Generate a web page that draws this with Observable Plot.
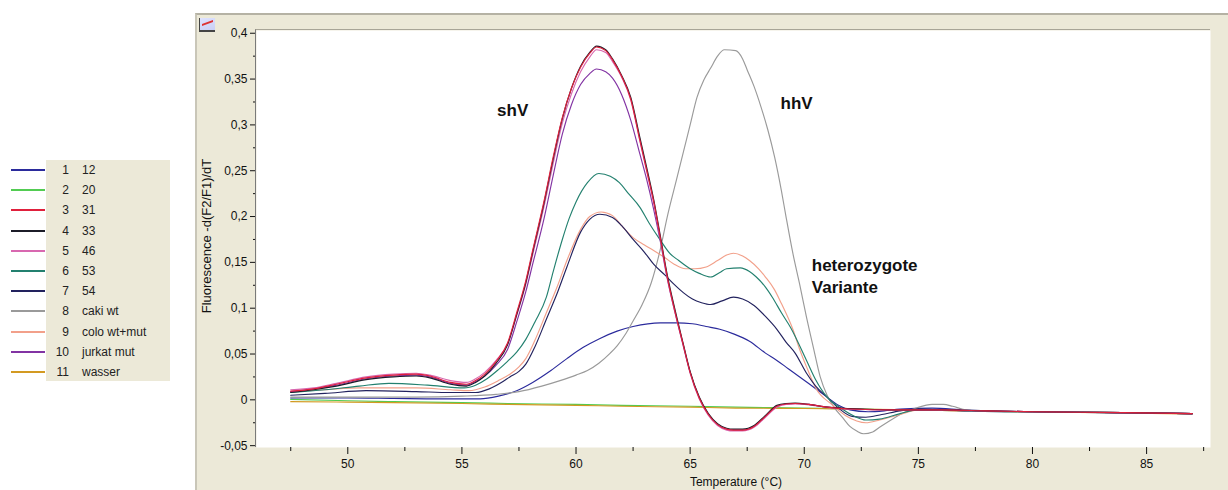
<!DOCTYPE html>
<html><head><meta charset="utf-8">
<script src="https://cdn.jsdelivr.net/npm/d3@7"></script>
<script src="https://cdn.jsdelivr.net/npm/@observablehq/plot@0.6"></script>
<style>
body{margin:0;background:#fff;font-family:"Liberation Sans",Arial,sans-serif;}
#wrap{position:relative;width:1228px;height:490px;overflow:hidden;background:#fff;}
#panel{position:absolute;left:195px;top:13px;width:1033px;height:477px;background:#ECE9D8;border-top:2px solid #b5b2a4;border-left:2px solid #c9c6b8;box-sizing:border-box;}
#chart{position:absolute;left:0;top:0;}
#pframe{position:absolute;left:255px;top:29px;width:955px;height:418px;border-top:1px solid #a8a597;border-left:1px solid #7a7a7a;box-sizing:border-box;pointer-events:none;}
#ylab{position:absolute;left:57px;top:228px;width:300px;height:16px;line-height:16px;text-align:center;font-size:13px;transform:rotate(-90deg);transform-origin:center;color:#111;white-space:nowrap;}
#xlab{position:absolute;left:636px;top:474px;width:200px;height:16px;line-height:16px;text-align:center;font-size:12px;color:#111;white-space:nowrap;}
#icon{position:absolute;left:199px;top:18px;width:15px;height:12px;border-left:1px solid #444;border-bottom:2px solid #444;background:linear-gradient(160deg,#dfe3ff 0%,#c9cff5 100%);}
#icon:after{content:"";position:absolute;left:2px;top:4px;width:11px;height:3px;border-top:2px solid #d33;transform:skewY(-20deg);}
#legend{position:absolute;left:0;top:0;}
.lrow{position:absolute;height:16px;line-height:16px;font-size:12px;color:#222;white-space:nowrap;}
.lline{position:absolute;height:2px;}
#lbox{position:absolute;left:46px;top:160px;width:124px;height:221px;background:#ECE9D8;}
</style></head>
<body>
<div id="wrap">
  <div id="panel"></div>
  <div id="chart"></div>
  <div id="pframe"></div>
  <div id="icon"></div>
  <div id="ylab">Fluorescence -d(F2/F1)/dT</div>
  <div id="xlab">Temperature (°C)</div>
  <div id="legend"><div id="lbox"></div></div>
</div>
<script>
// ---- data ----
const seriesIds = [1,2,3,4,5,6,7,8,9,10,11];
const seriesNames = ["12","20","31","33","46","53","54","caki wt","colo wt+mut","jurkat mut","wasser"];
const seriesColors = ["#2b2b9c","#52cc52","#e0203c","#1c1c28","#d868b0","#23806f","#22225e","#9a9a9a","#f2a08a","#8233a3","#d39a22"];

const yTicks = [-0.05,0,0.05,0.1,0.15,0.2,0.25,0.3,0.35,0.4];
const yMinorTicks = [-0.025,0.025,0.075,0.125,0.175,0.225,0.275,0.325,0.375];
const xTicks = [50,55,60,65,70,75,80,85];
const xMinorTicks = [47.5,52.5,57.5,62.5,67.5,72.5,77.5,82.5,87.5];

const annLabels = ["shV","hhV","heterozygote","Variante"];
const annTemp   = [56.54,68.96,70.33,70.33];
const annValue  = [0.3155,0.323,0.146,0.122];

const curve1 = [[47.5,0.002],[50,0.002],[52,0.0015],[54,0.001],[55.8,0.001],[56.6,0.004],[57.4,0.01],[58.1,0.019],[58.9,0.032],[59.6,0.045],[60.3,0.057],[61.05,0.067],[61.8,0.075],[62.5,0.08],[63.7,0.084],[64.4,0.084],[65.1,0.083],[65.7,0.08],[66.3,0.077],[66.9,0.072],[67.6,0.064],[68.3,0.051],[68.8,0.043],[69.3,0.034],[69.8,0.025],[70.4,0.014],[71.0,0.003],[71.5,-0.006],[72.0,-0.011],[72.8,-0.013],[73.5,-0.012],[74.2,-0.01],[75.6,-0.009],[77,-0.011],[80,-0.013],[83,-0.014],[87,-0.015]];
const curve2 = [[47.5,0.0005],[50,-0.001],[52,-0.002],[55,-0.003],[57,-0.004],[60,-0.005],[62,-0.006],[65,-0.007],[67,-0.008],[70,-0.009],[72,-0.01],[75,-0.011],[77,-0.012],[80,-0.013],[83,-0.0135],[87,-0.015]];
const curve3 = [[47.5,0.0095],[48.5,0.012],[49.5,0.017],[50.8,0.024],[52,0.027],[53,0.028],[53.6,0.026],[54.5,0.019],[55.2,0.017],[55.6,0.021],[56,0.028],[56.5,0.042],[57,0.062],[57.4,0.095],[57.8,0.13],[58.1,0.163],[58.6,0.217],[59.0,0.265],[59.4,0.308],[59.8,0.34],[60.2,0.363],[60.6,0.378],[60.9,0.385],[61.3,0.381],[61.6,0.371],[62.0,0.353],[62.4,0.328],[62.8,0.283],[63.1,0.25],[63.4,0.217],[63.7,0.176],[64.0,0.134],[64.35,0.095],[64.7,0.06],[65.0,0.03],[65.4,0.002],[65.8,-0.016],[66.2,-0.027],[66.6,-0.032],[66.9,-0.033],[67.3,-0.033],[67.8,-0.029],[68.3,-0.018],[68.8,-0.007],[69.2,-0.0045],[69.6,-0.004],[70.2,-0.005],[71.0,-0.008],[72.0,-0.01],[74.0,-0.011],[76.0,-0.011],[78,-0.012],[80,-0.013],[84,-0.014],[87,-0.015]];
const curve4 = [[47.5,0.008],[48.5,0.011],[49.5,0.015],[50.8,0.022],[52,0.025],[53,0.026],[53.6,0.024],[54.5,0.017],[55.2,0.015],[55.6,0.019],[56,0.026],[56.5,0.04],[57,0.06],[57.4,0.093],[57.8,0.128],[58.1,0.161],[58.6,0.215],[59.0,0.263],[59.4,0.307],[59.8,0.34],[60.2,0.364],[60.6,0.379],[60.9,0.386],[61.3,0.382],[61.6,0.372],[62.0,0.354],[62.4,0.33],[62.8,0.286],[63.1,0.253],[63.4,0.219],[63.7,0.178],[64.0,0.136],[64.35,0.097],[64.7,0.061],[65.0,0.031],[65.4,0.003],[65.8,-0.015],[66.2,-0.026],[66.6,-0.031],[66.9,-0.032],[67.3,-0.032],[67.8,-0.028],[68.3,-0.017],[68.8,-0.006],[69.2,-0.004],[69.6,-0.0035],[70.2,-0.005],[71,-0.008],[72,-0.0095],[74,-0.011],[76,-0.011],[78,-0.012],[80,-0.013],[84,-0.014],[87,-0.015]];
const curve5 = [[47.5,0.011],[48.5,0.013],[49.5,0.018],[50.8,0.025],[52,0.028],[53,0.029],[53.6,0.027],[54.5,0.021],[55.2,0.019],[55.6,0.023],[56,0.03],[56.5,0.043],[57,0.061],[57.4,0.092],[57.8,0.126],[58.1,0.158],[58.6,0.211],[59.0,0.258],[59.4,0.302],[59.8,0.334],[60.2,0.358],[60.6,0.374],[60.9,0.382],[61.3,0.379],[61.6,0.369],[62.0,0.352],[62.4,0.327],[62.8,0.282],[63.1,0.249],[63.4,0.215],[63.7,0.175],[64.0,0.133],[64.35,0.094],[64.7,0.059],[65.0,0.029],[65.4,0.001],[65.8,-0.017],[66.2,-0.028],[66.6,-0.033],[66.9,-0.034],[67.3,-0.034],[67.8,-0.03],[68.3,-0.019],[68.8,-0.008],[69.2,-0.005],[69.6,-0.0045],[70.2,-0.0055],[71,-0.0085],[72,-0.01],[74,-0.011],[76,-0.0115],[78,-0.012],[80,-0.013],[84,-0.014],[87,-0.015]];
const curve6 = [[47.5,0.008],[49,0.011],[50.5,0.015],[51.8,0.018],[53.5,0.016],[55.1,0.013],[55.6,0.016],[56.1,0.023],[56.6,0.033],[57.0,0.042],[57.4,0.052],[57.8,0.066],[58.2,0.085],[58.7,0.112],[59.0,0.14],[59.4,0.175],[59.7,0.198],[60.0,0.216],[60.5,0.237],[61.0,0.247],[61.5,0.244],[61.9,0.237],[62.3,0.225],[62.8,0.21],[63.2,0.193],[63.7,0.174],[64.1,0.16],[64.5,0.152],[65.0,0.143],[65.4,0.138],[65.9,0.134],[66.3,0.139],[66.6,0.143],[67.2,0.144],[67.6,0.14],[67.9,0.134],[68.3,0.123],[68.6,0.112],[69.0,0.095],[69.4,0.079],[70.1,0.043],[70.5,0.022],[71.0,0.003],[71.6,-0.009],[72.2,-0.018],[72.7,-0.022],[73.3,-0.021],[74.2,-0.015],[75,-0.011],[76,-0.011],[77,-0.012],[80,-0.013],[84,-0.014],[87,-0.015]];
const curve7 = [[47.5,0.005],[49,0.007],[50.8,0.01],[53,0.009],[54.5,0.008],[55.6,0.008],[56.2,0.012],[56.8,0.02],[57.1,0.025],[57.5,0.031],[57.8,0.039],[58.2,0.058],[58.7,0.088],[59.2,0.118],[59.6,0.145],[60.2,0.183],[60.6,0.197],[61.05,0.2025],[61.6,0.199],[62.0,0.19],[62.5,0.175],[63.0,0.161],[63.4,0.148],[63.9,0.136],[64.3,0.126],[64.7,0.117],[65.1,0.11],[65.5,0.106],[65.9,0.104],[66.4,0.108],[66.9,0.112],[67.3,0.11],[67.8,0.103],[68.3,0.091],[68.8,0.077],[69.2,0.063],[69.6,0.051],[70.1,0.029],[70.5,0.015],[71.0,0.003],[71.5,-0.009],[72.1,-0.018],[72.7,-0.019],[73.4,-0.016],[74.2,-0.012],[75,-0.01],[77,-0.012],[80,-0.013],[84,-0.014],[87,-0.015]];
const curve8 = [[47.5,0.003],[50,0.003],[53,0.003],[55,0.004],[56.5,0.006],[57.5,0.009],[58.5,0.015],[59.3,0.021],[60,0.027],[60.5,0.032],[61,0.04],[61.5,0.051],[61.8,0.059],[62.2,0.073],[62.5,0.086],[62.9,0.104],[63.3,0.128],[63.7,0.165],[64.0,0.2],[64.4,0.24],[64.7,0.27],[65.0,0.3],[65.3,0.33],[65.6,0.349],[65.9,0.362],[66.2,0.375],[66.5,0.382],[67.0,0.381],[67.3,0.372],[67.5,0.36],[67.8,0.342],[68.1,0.32],[68.4,0.295],[68.7,0.265],[69.0,0.228],[69.2,0.2],[69.5,0.16],[69.8,0.126],[70.1,0.09],[70.4,0.057],[70.7,0.025],[71.0,0.005],[71.3,-0.008],[71.7,-0.02],[72.0,-0.029],[72.3,-0.034],[72.6,-0.037],[73.0,-0.035],[73.3,-0.03],[73.8,-0.022],[74.2,-0.016],[74.9,-0.009],[75.6,-0.005],[76.1,-0.005],[76.5,-0.007],[77.1,-0.011],[78,-0.012],[80,-0.013],[84,-0.014],[87,-0.015]];
const curve9 = [[47.5,0.009],[49,0.011],[50.5,0.013],[53,0.013],[54.5,0.011],[55.3,0.01],[56,0.014],[56.6,0.021],[57.1,0.028],[57.5,0.036],[57.8,0.045],[58.2,0.065],[58.7,0.095],[59.2,0.125],[59.6,0.152],[60.2,0.186],[60.6,0.2],[61.1,0.205],[61.6,0.201],[62.0,0.19],[62.5,0.177],[63.0,0.169],[63.4,0.163],[63.9,0.155],[64.3,0.148],[64.8,0.143],[65.2,0.143],[65.7,0.145],[66.2,0.152],[66.6,0.158],[66.9,0.16],[67.3,0.157],[67.6,0.152],[68.0,0.143],[68.3,0.134],[68.7,0.12],[69.0,0.105],[69.5,0.077],[69.8,0.055],[70.1,0.036],[70.5,0.013],[71.2,-0.005],[71.8,-0.017],[72.3,-0.023],[72.7,-0.025],[73.3,-0.022],[74.2,-0.016],[75,-0.011],[77,-0.012],[80,-0.013],[84,-0.014],[87,-0.015]];
const curve10 = [[47.5,0.009],[48.5,0.012],[49.5,0.016],[50.8,0.023],[52,0.026],[53,0.027],[53.6,0.025],[54.5,0.018],[55.2,0.016],[55.6,0.02],[56,0.026],[56.5,0.038],[57,0.055],[57.4,0.085],[57.8,0.118],[58.1,0.148],[58.6,0.198],[59.0,0.245],[59.4,0.29],[59.8,0.322],[60.2,0.344],[60.6,0.356],[60.9,0.361],[61.3,0.358],[61.6,0.351],[62.0,0.333],[62.4,0.305],[62.8,0.268],[63.1,0.24],[63.4,0.208],[63.7,0.172],[64.0,0.132],[64.35,0.094],[64.7,0.059],[65.0,0.03],[65.4,0.002],[65.8,-0.016],[66.2,-0.027],[66.6,-0.032],[66.9,-0.033],[67.3,-0.033],[67.8,-0.029],[68.3,-0.018],[68.8,-0.007],[69.2,-0.0045],[69.6,-0.004],[70.2,-0.005],[71,-0.008],[72,-0.01],[74,-0.011],[76,-0.011],[78,-0.012],[80,-0.013],[84,-0.014],[87,-0.015]];
const curve11 = [[47.5,-0.002],[50,-0.0025],[52,-0.003],[55,-0.004],[57,-0.005],[60,-0.006],[62,-0.007],[65,-0.008],[67,-0.009],[70,-0.0095],[72,-0.01],[75,-0.011],[77,-0.012],[80,-0.013],[83,-0.014],[87,-0.0155]];

const curves = [curve1,curve2,curve3,curve4,curve5,curve6,curve7,curve8,curve9,curve10,curve11];
const drawOrder = [2,11,1,8,9,7,6,10,5,4,3];

// ---- build ----
const rows = [];
curves.forEach((c,i)=>c.forEach(([t,v])=>rows.push({id:seriesIds[i],name:seriesNames[i],t,v})));
const annotations = annLabels.map((s,i)=>({s,t:annTemp[i],v:annValue[i]}));
const fmt = d => String(+d.toFixed(2)).replace(".", ",");

const lineMarks = drawOrder.map(id => Plot.line(rows.filter(r=>r.id===id), {
  x:"t", y:"v", stroke: seriesColors[id-1], strokeWidth: 1.15, curve:"monotone-x"
}));

const chart = Plot.plot({
  width: 1228, height: 490,
  marginLeft: 256, marginRight: 18, marginTop: 30, marginBottom: 43,
  x: {domain:[46, 87.8]},
  y: {domain:[-0.052, 0.403]},
  style: {background:"transparent", fontFamily:"'Liberation Sans', Arial, sans-serif", fontSize:"12px", color:"#111"},
  marks: [
    Plot.frame({fill:"white", stroke:"none"}),
    Plot.axisY({ticks: yMinorTicks, tickSize: 3, tickFormat: () => "", label: null}),
    Plot.axisY({ticks: yTicks, tickSize: 6, tickPadding: 3, tickFormat: fmt, label: null}),
    Plot.axisX({ticks: xMinorTicks, tickSize: 4, tickFormat: () => "", label: null}),
    Plot.axisX({ticks: xTicks, tickSize: 7, tickPadding: 5, tickFormat: d => String(d), label: null}),
    ...lineMarks,
    Plot.text(annotations, {x:"t", y:"v", text:"s", textAnchor:"start", lineAnchor:"middle", fontSize:17, fontWeight:"bold", fill:"#111"})
  ]
});
document.getElementById("chart").appendChild(chart);

// legend
const leg = document.getElementById("legend");
seriesIds.forEach((id,i)=>{
  const y = 170 + i*20.2;
  const ln = document.createElement("div");
  ln.className = "lline";
  ln.style.left = "11px"; ln.style.width = "34px"; ln.style.top = Math.round(y-1)+"px";
  ln.style.background = seriesColors[i];
  leg.appendChild(ln);
  const num = document.createElement("div");
  num.className = "lrow";
  num.style.left = "48px"; num.style.width = "21px"; num.style.textAlign = "right"; num.style.top = Math.round(y-8)+"px";
  num.textContent = String(id);
  leg.appendChild(num);
  const lab = document.createElement("div");
  lab.className = "lrow";
  lab.style.left = "82px"; lab.style.top = Math.round(y-8)+"px";
  lab.textContent = seriesNames[i];
  leg.appendChild(lab);
});
</script>
</body></html>
